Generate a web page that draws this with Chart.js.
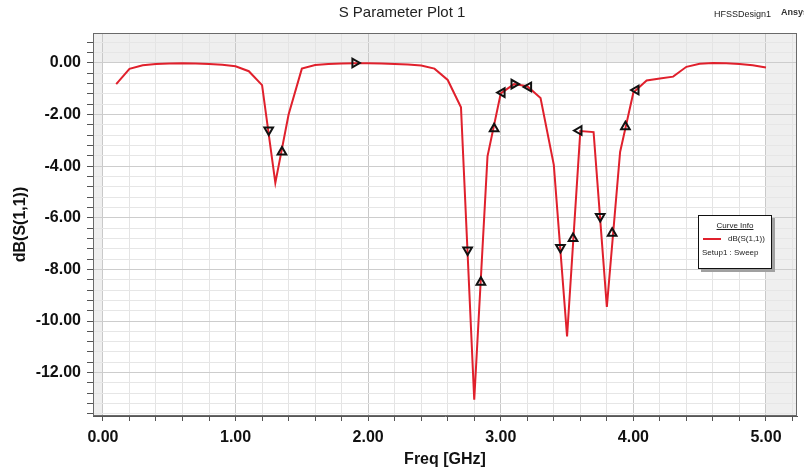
<!DOCTYPE html>
<html>
<head>
<meta charset="utf-8">
<script src="https://cdn.jsdelivr.net/npm/chart.js@4.4.0/dist/chart.umd.min.js"></script>
<style>
  body { margin: 0; background: #fff; }
  #wrap { position: relative; width: 804px; height: 468px; overflow: hidden; font-family: "Liberation Sans", Arial, sans-serif; }
  #title { position: absolute; left: 0; top: 3px; width: 804px; text-align: center; font-size: 15px; color: #222; }
  #design { position: absolute; left: 714px; top: 9px; font-size: 9px; color: #222; }
  #ansys { position: absolute; left: 781px; top: 7px; font-size: 9px; font-weight: bold; color: #333; white-space: nowrap; }
  #legend { position: absolute; left: 698px; top: 215px; width: 72px; height: 52px; border: 1px solid #111; background: #fff; box-shadow: 3px 3px 0 #a0a0a0; font-size: 8px; color: #222; }
  #legend .head { position: absolute; left: 0; top: 5px; width: 72px; text-align: center; text-decoration: underline; }
  #legend .swatch { position: absolute; left: 4px; top: 22px; width: 18px; height: 2px; background: #e0202c; }
  #legend .name { position: absolute; left: 29px; top: 18px; }
  #legend .setup { position: absolute; left: 3px; top: 32px; }
</style>
</head>
<body>
<div id="wrap">
  <canvas id="sparam" width="804" height="468"></canvas>
  <div id="title">S Parameter Plot 1</div>
  <div id="design">HFSSDesign1</div>
  <div id="ansys">Ansys</div>
  <div id="legend">
    <div class="head">Curve Info</div>
    <div class="swatch"></div>
    <div class="name">dB(S(1,1))</div>
    <div class="setup">Setup1 : Sweep</div>
  </div>
</div>
<script>
// sweep points, GHz
const freqGHz = [0.1, 0.2, 0.3, 0.4, 0.5, 0.6, 0.7, 0.8, 0.9, 1.0,
  1.1, 1.2, 1.3, 1.4, 1.5, 1.6, 1.7, 1.8, 1.9, 2.0,
  2.1, 2.2, 2.3, 2.4, 2.5, 2.6, 2.7, 2.8, 2.9, 3.0,
  3.1, 3.2, 3.3, 3.4, 3.5, 3.6, 3.7, 3.8, 3.9, 4.0,
  4.1, 4.2, 4.3, 4.4, 4.5, 4.6, 4.7, 4.8, 4.9, 5.0]
// dB(S(1,1))
const s11dB = [-0.82, -0.23, -0.09, -0.04, -0.02, -0.01, -0.02, -0.04, -0.07, -0.13,
  -0.32, -0.86, -4.65, -2.00, -0.22, -0.08, -0.04, -0.02, -0.01, -0.01,
  -0.02, -0.04, -0.06, -0.10, -0.22, -0.66, -1.72, -13.05, -3.62, -1.18,
  -0.82, -0.90, -1.36, -3.95, -10.60, -2.64, -2.68, -9.45, -3.45, -1.15,
  -0.68, -0.60, -0.53, -0.15, -0.03, 0.00, -0.01, -0.04, -0.09, -0.18]

// triangle markers on the trace
const markerFreq = [1.25, 1.35, 1.90, 2.75, 2.85, 2.95, 3.01, 3.10, 3.21, 3.45, 3.545, 3.59, 3.75, 3.84, 3.94, 4.02]
const markerDB = [-2.60, -3.45, 0.00, -7.25, -8.50, -2.55, -1.15, -0.82, -0.93, -7.15, -6.80, -2.62, -5.95, -6.60, -2.47, -1.05]
const markerRot = [180, 0, 90, 180, 0, 0, -90, 90, -90, 180, 0, -90, 180, 0, 0, -90]

const xMajorTicks = [0, 1, 2, 3, 4, 5]
const yMajorTicks = [0, -2, -4, -6, -8, -10, -12]
const xMinorStep = 0.2
const yMinorStep = 0.4

const FONT = '"Liberation Sans", Arial, sans-serif'

function isMajor(v, list) {
  return list.some(m => Math.abs(m - v) < 1e-6)
}

function stepTicks(min, max, step) {
  const out = []
  for (let v = Math.ceil(min / step - 1e-9) * step; v <= max + 1e-9; v += step) {
    out.push({ value: Math.round(v * 1000) / 1000 })
  }
  return out
}

const bgPlugin = {
  id: 'hfssBg',
  beforeDraw(chart) {
    const { ctx, chartArea: a, scales: { x, y } } = chart
    ctx.save()
    ctx.fillStyle = '#efefef'
    ctx.fillRect(a.left, a.top, a.right - a.left, a.bottom - a.top)
    const x0 = x.getPixelForValue(0)
    const x1 = x.getPixelForValue(5)
    const y0 = y.getPixelForValue(0)
    ctx.fillStyle = '#fff'
    ctx.fillRect(x0, y0, x1 - x0, a.bottom - y0)
    ctx.restore()
  },
  afterDraw(chart) {
    const { ctx, chartArea: a } = chart
    ctx.save()
    ctx.strokeStyle = '#6a6a6a'
    ctx.lineWidth = 1
    ctx.strokeRect(a.left + 0.5, a.top + 0.5, a.right - a.left - 1, a.bottom - a.top - 1)
    ctx.restore()
  }
}

const ctx = document.getElementById('sparam')
new Chart(ctx, {
  type: 'line',
  data: {
    datasets: [{
      label: 'dB(S(1,1))',
      data: freqGHz.map((f, i) => ({ x: f, y: s11dB[i] })),
      borderColor: '#e0202c',
      borderWidth: 2,
      pointRadius: 0,
      tension: 0,
      order: 2
    }, {
      label: 'markers',
      data: markerFreq.map((f, i) => ({ x: f, y: markerDB[i] })),
      showLine: false,
      pointStyle: 'triangle',
      pointRotation: markerRot,
      pointRadius: 5,
      pointBorderWidth: 2,
      pointBorderColor: '#111',
      pointBackgroundColor: 'rgba(0,0,0,0)',
      order: 1
    }]
  },
  options: {
    responsive: false,
    animation: false,
    devicePixelRatio: 1,
    layout: { padding: { top: 33, right: 7, left: 0, bottom: 0 } },
    plugins: {
      legend: { display: false },
      tooltip: { enabled: false }
    },
    scales: {
      x: {
        type: 'linear',
        min: -0.075,
        max: 5.234,
        afterBuildTicks: s => { s.ticks = stepTicks(0, 5.234, xMinorStep) },
        afterFit: s => { s.height = 52 },
        border: { display: true, color: '#555', width: 1 },
        grid: {
          color: c => isMajor(c.tick.value, xMajorTicks) ? '#c9c9c9' : '#e4e4e4',
          tickColor: '#555',
          tickLength: 5
        },
        ticks: {
          autoSkip: false,
          maxRotation: 0,
          padding: 7,
          color: '#111',
          font: { family: FONT, size: 16, weight: 'bold' },
          callback: v => isMajor(v, xMajorTicks) ? v.toFixed(2) : ''
        },
        title: {
          display: true,
          text: 'Freq [GHz]',
          color: '#111',
          padding: 0,
          font: { family: FONT, size: 16, weight: 'bold', lineHeight: 1 }
        }
      },
      y: {
        type: 'linear',
        min: -13.68,
        max: 1.16,
        afterBuildTicks: s => { s.ticks = stepTicks(-13.68, 1.16, yMinorStep) },
        afterFit: s => { s.width = 93 },
        border: { display: true, color: '#555', width: 1 },
        grid: {
          color: c => isMajor(c.tick.value, yMajorTicks) ? '#cdcdcd' : '#e6e6e6',
          tickColor: '#555',
          tickLength: 6
        },
        ticks: {
          autoSkip: false,
          padding: 6,
          color: '#111',
          font: { family: FONT, size: 16, weight: 'bold' },
          callback: v => isMajor(v, yMajorTicks) ? (Math.abs(v) < 1e-6 ? '0.00' : v.toFixed(2)) : ''
        },
        title: {
          display: true,
          text: 'dB(S(1,1))',
          color: '#111',
          padding: { top: 13, bottom: 0 },
          font: { family: FONT, size: 16, weight: 'bold', lineHeight: 1 }
        }
      }
    }
  },
  plugins: [bgPlugin]
})
</script>
</body>
</html>
